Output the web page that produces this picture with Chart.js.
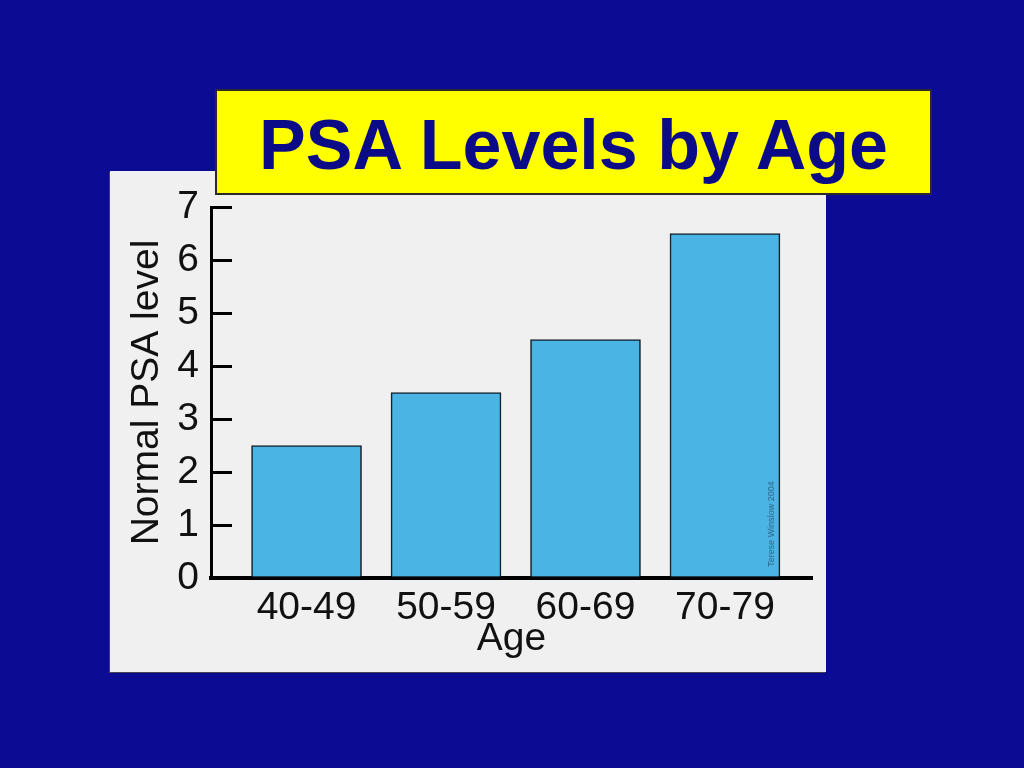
<!DOCTYPE html>
<html>
<head>
<meta charset="utf-8">
<script src="https://cdn.jsdelivr.net/npm/chart.js@4/dist/chart.umd.min.js"></script>
<style>
  html, body { margin: 0; padding: 0; }
  body { width: 1024px; height: 768px; background: #0b0b94; position: relative; overflow: hidden; font-family: "Liberation Sans", Arial, sans-serif; }
  #panel { position: absolute; left: 110px; top: 171px; width: 716px; height: 501px; background: #f0f0f0; box-shadow: -1px 1px 0 #444; }
  #wrap { position: absolute; left: 0; top: 0; width: 1024px; height: 768px; }
  #titlebox { position: absolute; left: 215px; top: 89px; width: 713px; height: 102px; background: #ffff00; border: 2px solid #2a2a2a; }
  #title { position: absolute; left: 0; width: 100%; top: 19px; text-align: center; font-weight: bold; font-size: 70px; line-height: 70px; color: #0b0b88; white-space: nowrap; }
  #mark { position: absolute; left: 771px; top: 524px; font-size: 9px; color: #2e5f86; white-space: nowrap; transform: translate(-50%, -50%) rotate(-90deg); }
</style>
</head>
<body>
<div id="panel"></div>
<div id="wrap"><canvas id="c" width="1024" height="768"></canvas></div>
<div id="titlebox"><div id="title">PSA Levels by Age</div></div>
<div id="mark">Terese Winslow 2004</div>
<script>
const categories = ["40-49", "50-59", "60-69", "70-79"];
const psaValues = [2.5, 3.5, 4.5, 6.5];
const yTicks = [0, 1, 2, 3, 4, 5, 6, 7];
const xAxisTitle = "Age";
const yAxisTitle = "Normal PSA level";

const font39 = { family: "'Liberation Sans', Arial, sans-serif", size: 39 };

new Chart(document.getElementById('c'), {
  type: 'bar',
  data: {
    datasets: [{
      data: categories.map((c, i) => ({ x: i, y: psaValues[i] })),
      backgroundColor: '#4ab5e5',
      borderColor: '#16232c',
      borderWidth: 1.6,
      barThickness: 110
    }]
  },
  options: {
    responsive: false,
    animation: false,
    events: [],
    layout: { padding: { left: 124, top: 207, right: 212, bottom: 105 } },
    plugins: { legend: { display: false }, tooltip: { enabled: false } },
    scales: {
      x: {
        type: 'linear',
        bounds: 'data',
        offset: false,
        min: -0.685,
        max: 3.624,
        afterBuildTicks: (axis) => { axis.ticks = categories.map((c, i) => ({ value: i })); },
        afterFit: (axis) => { axis.height = 85; },
        grid: { display: false, drawTicks: false },
        border: { display: true, color: '#000', width: 4 },
        ticks: {
          autoSkip: false,
          maxRotation: 0,
          padding: 7,
          color: '#111',
          font: font39,
          callback: (v) => categories[v] !== undefined ? categories[v] : ''
        },
        title: { display: true, text: xAxisTitle, color: '#111', font: font39, padding: { top: -3, bottom: 0 } }
      },
      y: {
        min: 0,
        max: 7,
        afterBuildTicks: (axis) => { axis.ticks = yTicks.map(v => ({ value: v })); },
        afterFit: (axis) => { axis.width = 87; },
        grid: { drawOnChartArea: false, drawTicks: true, tickLength: -21, color: '#000', lineWidth: 3 },
        border: { display: true, color: '#000', width: 3 },
        ticks: { padding: 33, color: '#111', font: font39 },
        title: { display: true, text: yAxisTitle, color: '#111', font: font39, padding: { top: 0, bottom: 0 } }
      }
    }
  }
});
</script>
</body>
</html>
